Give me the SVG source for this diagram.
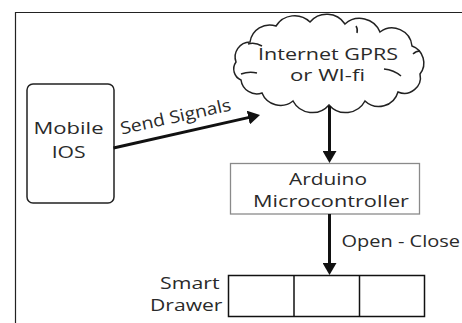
<svg xmlns="http://www.w3.org/2000/svg" width="462" height="323" viewBox="0 0 462 323">
  <defs>
    <style>
      .t { font-family: "Open Sans", "Noto Sans", "DejaVu Sans", sans-serif; font-size: 17px; fill: #2a2a2a; }
      .conn { stroke: #111; stroke-width: 3; fill: none; }
      .frame { stroke: #222; stroke-width: 1.2; fill: none; }
    </style>
    <marker id="arrow" markerUnits="userSpaceOnUse" markerWidth="13" markerHeight="14" refX="1" refY="7" orient="auto">
      <path d="M0,0 L12,7 L0,14 z" fill="#111"/>
    </marker>
  </defs>
  <rect width="462" height="323" fill="#ffffff"/>
  <path class="frame" d="M15.5,323 V12.5 H462"/>

  <g id="mobile">
    <rect x="27" y="84" width="87" height="119" rx="6" fill="#fff" stroke="#222" stroke-width="1.5"/>
    <text class="t" x="33.5" y="134" textLength="70" lengthAdjust="spacingAndGlyphs">Mobile</text>
    <text class="t" x="51.7" y="158" textLength="34" lengthAdjust="spacingAndGlyphs">IOS</text>
  </g>

  <g id="cloud">
    <path d="M236,62 A15,15 0 0 1 250,42 A20,20 0 0 1 276,26 A22,22 0 0 1 310,22 A22,22 0 0 1 345,24 A22,22 0 0 1 380,32 A20,20 0 0 1 412,46 A18,18 0 0 1 420,74 A16,16 0 0 1 398,92 A20,20 0 0 1 365,101 A22,22 0 0 1 329,105 A22,22 0 0 1 293,101 A20,20 0 0 1 262,93 A16,16 0 0 1 241,80 A12,12 0 0 1 236,62 Z" fill="#fff" stroke="#222" stroke-width="1.5"/>
    <path d="M248,44 Q255,42 262,46 M241,74 Q249,71 257,73 M413,54 Q416,51 420,51 M384,69 Q394,70 401,76 M356,26 Q358,29 357,33" fill="none" stroke="#222" stroke-width="1.5"/>
    <text class="t" x="258" y="59.5" textLength="140" lengthAdjust="spacingAndGlyphs">Internet GPRS</text>
    <text class="t" x="290" y="81" textLength="75" lengthAdjust="spacingAndGlyphs">or WI-fi</text>
  </g>

  <g id="arduino">
    <rect x="230.5" y="163.5" width="189" height="50.5" fill="#fff" stroke="#8a8a8a" stroke-width="1.3"/>
    <text class="t" x="289" y="185" textLength="78" lengthAdjust="spacingAndGlyphs">Arduino</text>
    <text class="t" x="253" y="206.5" textLength="156" lengthAdjust="spacingAndGlyphs">Microcontroller</text>
  </g>

  <g id="drawer">
    <rect x="228.5" y="275.5" width="196" height="41" fill="#fff" stroke="#111" stroke-width="1.5"/>
    <line x1="294" y1="275.5" x2="294" y2="316.5" stroke="#111" stroke-width="1.5"/>
    <line x1="359.5" y1="275.5" x2="359.5" y2="316.5" stroke="#111" stroke-width="1.5"/>
    <text class="t" x="160" y="289.3" textLength="59.5" lengthAdjust="spacingAndGlyphs">Smart</text>
    <text class="t" x="150" y="310.5" textLength="72.5" lengthAdjust="spacingAndGlyphs">Drawer</text>
  </g>

  <g id="connectors">
    <line class="conn" x1="113.5" y1="148" x2="249.3" y2="117.4" marker-end="url(#arrow)"/>
    <line class="conn" x1="329.5" y1="106" x2="329.5" y2="152" marker-end="url(#arrow)"/>
    <line class="conn" x1="329.5" y1="214" x2="329.5" y2="264" marker-end="url(#arrow)"/>
    <text class="t" transform="translate(121.7,134.5) rotate(-12.4)" x="0" y="0" textLength="113" lengthAdjust="spacingAndGlyphs">Send Signals</text>
    <text class="t" x="341.5" y="246.5" textLength="118.5" lengthAdjust="spacingAndGlyphs">Open - Close</text>
  </g>
</svg>
